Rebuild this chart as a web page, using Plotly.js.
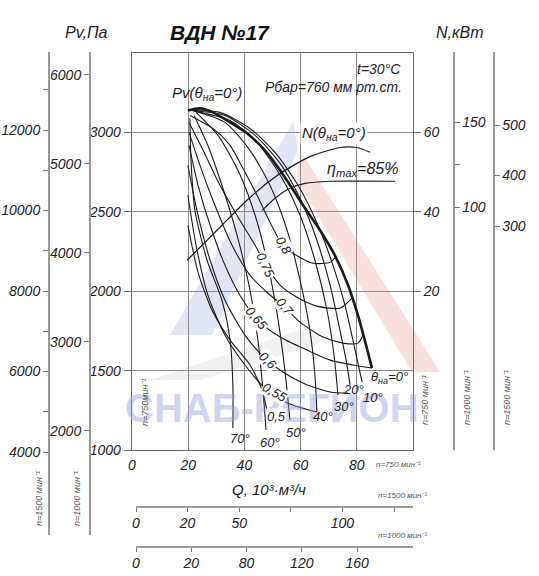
<!DOCTYPE html>
<html><head><meta charset="utf-8">
<script src="https://cdn.plot.ly/plotly-3.0.1.min.js"></script>
<style>html,body{margin:0;padding:0;background:#fff}#chart{width:539px;height:576px}</style>
</head><body><div id="chart"></div>
<script>
// ===== DATA (Q in 10^3 m3/h at n=750, Pv in Pa at n=750) =====
const Q_T0  = [19.9, 24.2, 28.8, 34.9, 40.9, 47.3, 52.7, 61.6, 66.9, 72.2, 76.9, 80.4, 83.3, 85.4];
const P_T0  = [3138, 3151, 3126, 3063, 2994, 2887, 2761, 2522, 2384, 2226, 2038, 1849, 1660, 1516];
const Q_T10 = [20.6, 31.3, 42.0, 50.9, 59.1, 66.2, 71.5, 75.8, 79.0, 81.9];
const P_T10 = [3138, 3126, 3025, 2874, 2667, 2415, 2164, 1912, 1660, 1428];
const Q_T20 = [21.4, 33.1, 43.8, 52.7, 59.8, 65.8, 70.5, 74.0, 76.2, 77.6];
const P_T20 = [3136, 3107, 2981, 2805, 2585, 2321, 2038, 1755, 1566, 1409];
const Q_T30 = [22.1, 34.9, 44.8, 53.4, 59.8, 65.1, 69.4, 71.9, 73.3];
const P_T30 = [3134, 3075, 2931, 2711, 2478, 2195, 1880, 1597, 1346];
const Q_T40 = [22.8, 33.1, 42.0, 49.1, 55.2, 59.8, 63.3, 65.1, 65.8];
const P_T40 = [3132, 3063, 2887, 2667, 2384, 2069, 1755, 1472, 1239];
const Q_T50 = [22.8, 30.6, 37.7, 43.8, 48.4, 52.0, 54.4, 56.2];
const P_T50 = [3126, 2981, 2761, 2478, 2164, 1818, 1503, 1189];
const Q_T60 = [22.1, 27.0, 32.0, 37.4, 42.0, 44.8, 46.6, 47.7];
const P_T60 = [3107, 2918, 2667, 2352, 2006, 1692, 1377, 1126];
const Q_T70 = [20.6, 21.0, 22.4, 26.7, 32.0, 34.9, 35.9, 35.9];
const P_T70 = [3088, 2824, 2509, 2195, 1943, 1692, 1409, 1138];

const Q_E80 = [20.6, 28.8, 34.9, 39.5, 44.5, 49.1, 53.7, 57.3, 64.4, 70.5, 72.6];
const P_E80 = [3107, 3025, 2918, 2773, 2604, 2434, 2289, 2239, 2176, 2182, 2220];
const Q_E75 = [20.3, 25.3, 31.3, 38.4, 43.8, 47.7, 52.7, 58.7, 65.8, 74.0, 78.3];
const P_E75 = [3063, 2887, 2667, 2447, 2289, 2163, 2038, 1962, 1906, 1893, 1956];
const Q_E70 = [20.3, 24.2, 29.5, 35.6, 42.0, 48.4, 54.4, 59.8, 68.0, 75.1, 80.4, 82.2];
const P_E70 = [3000, 2792, 2541, 2289, 2101, 1987, 1899, 1805, 1711, 1673, 1673, 1723];
const Q_E65 = [20.3, 23.5, 27.8, 33.1, 38.4, 44.8, 52.7, 62.3, 70.5, 78.6, 85.4];
const P_E65 = [2918, 2667, 2415, 2163, 1975, 1818, 1711, 1629, 1566, 1535, 1516];
const Q_E60 = [19.9, 23.1, 27.8, 33.1, 40.2, 47.3, 53.7, 61.6, 70.5, 76.9];
const P_E60 = [2792, 2509, 2195, 1943, 1723, 1579, 1491, 1415, 1365, 1358];
const Q_E55 = [19.9, 22.8, 27.0, 33.1, 40.2, 47.3, 56.2, 65.8];
const P_E55 = [2604, 2289, 1975, 1723, 1535, 1390, 1289, 1239];
const Q_E50 = [19.9, 23.5, 28.5, 34.9, 42.0, 46.3, 48.0];
const P_E50 = [2415, 2119, 1880, 1692, 1535, 1377, 1252];

const Q_ETAMAX = [46.3, 50.9, 56.2, 61.6, 70.5, 93.6];
const P_ETAMAX = [2509, 2585, 2648, 2679, 2692, 2692];

// Power N (kW, n=750) at theta=0
const Q_N0 = [19.6, 26.7, 33.8, 40.9, 50.2, 58.7, 64.4, 74.0, 80.1, 84.7];
const N_N0 = [27.8, 32.8, 37.9, 42.9, 48.4, 52.2, 54.2, 56.2, 56.2, 55.0];

// tick labels
const Q750_TICKS = [0, 20, 40, 60, 80];
const Q750_TEXT  = ['0', '20', '40', '60', '80'];
const Q1500_TICKS = [0, 25, 50, 100];
const Q1500_TEXT  = ['0', '20', '50', '100'];
const Q1500_MINOR = [75, 125];
const Q1000_TICKS = [0, 40, 80, 120, 160];
const Q1000_TEXT  = ['0', '20', '80', '120', '160'];
const PV750_TICKS = [1000, 1500, 2000, 2500, 3000];
const PV750_TEXT  = ['1000', '1500', '2000', '2500', '3000'];
const PV1000_TICKS = [2000, 3000, 4000, 5000, 6000];
const PV1000_TEXT  = ['2000', '3000', '4000', '5000', '6000'];
const PV1500_TICKS = [4000, 6000, 8000, 10000, 12000];
const PV1500_TEXT  = ['4000', '6000', '8000', '10000', '12000'];
const PV1500_MINOR = [5000, 7000, 9000, 11000, 13000];
const N750_TICKS = [20, 40, 60];
const N1000_TICKS = [100, 150];
const N1000_MINOR = [125];
const N1500_TICKS = [300, 400, 500];

const THETA_LABELS = ['0°', '10°', '20°', '30°', '40°', '50°', '60°', '70°'];
const ETA_LABELS = ['0,8', '0,75', '0,7', '0,65', '0,6', '0,55', '0,5'];

// ===== LAYOUT HELPERS =====
const W = 539, H = 576;
const fx = v => v / W;
const fy = v => 1 - v / H;
const FAM = 'Liberation Sans, Arial, sans-serif';
const INK = '#1a1a1a';

const thetaQ = [Q_T0, Q_T10, Q_T20, Q_T30, Q_T40, Q_T50, Q_T60, Q_T70];
const thetaP = [P_T0, P_T10, P_T20, P_T30, P_T40, P_T50, P_T60, P_T70];
const etaQ = [Q_E80, Q_E75, Q_E70, Q_E65, Q_E60, Q_E55, Q_E50];
const etaP = [P_E80, P_E75, P_E70, P_E65, P_E60, P_E55, P_E50];

const traces = [];
thetaQ.forEach((q, i) => traces.push({
  type: 'scatter', mode: 'lines', x: q, y: thetaP[i], xaxis: 'x', yaxis: 'y',
  name: 'θ=' + THETA_LABELS[i], showlegend: false, hoverinfo: 'skip',
  line: {color: INK, width: i === 0 ? 2.6 : 1.1, shape: 'spline', smoothing: 0.7}
}));
etaQ.forEach((q, i) => traces.push({
  type: 'scatter', mode: 'lines', x: q, y: etaP[i], xaxis: 'x', yaxis: 'y',
  name: 'η=' + ETA_LABELS[i], showlegend: false, hoverinfo: 'skip',
  line: {color: INK, width: 1.1, shape: 'spline', smoothing: 0.7}
}));
traces.push({type: 'scatter', mode: 'lines', x: Q_ETAMAX, y: P_ETAMAX, xaxis: 'x', yaxis: 'y',
  showlegend: false, hoverinfo: 'skip', line: {color: INK, width: 1.1, shape: 'spline', smoothing: 0.6}});
traces.push({type: 'scatter', mode: 'lines', x: Q_N0, y: N_N0, xaxis: 'x', yaxis: 'y2',
  showlegend: false, hoverinfo: 'skip', line: {color: INK, width: 1.2, shape: 'spline', smoothing: 0.7}});
// carriers for the extra scales
['y3', 'y4', 'y5', 'y6'].forEach(ya => traces.push({type: 'scatter', mode: 'lines', x: [], y: [], xaxis: 'x9', yaxis: ya, showlegend: false, hoverinfo: 'skip'}));
['x2', 'x3'].forEach(xa => traces.push({type: 'scatter', mode: 'lines', x: [], y: [], xaxis: xa, yaxis: 'y9', showlegend: false, hoverinfo: 'skip'}));

const tf = {family: FAM, size: 14, style: 'italic', color: '#222'};
const extraAx = {showgrid: false, zeroline: false, showline: true, linecolor: '#9a9a9a', linewidth: 1.5,
  ticks: 'outside', ticklen: 5, tickcolor: '#777', tickfont: tf, fixedrange: true, exponentformat: 'none', separatethousands: false};
const minorOf = vals => ({tickmode: 'array', tickvals: vals, ticks: 'outside', ticklen: 5, tickcolor: '#777', showgrid: false});

function ann(text, x, y, o) {
  return Object.assign({text: text, x: fx(x), y: fy(y), xref: 'paper', yref: 'paper', showarrow: false,
    xanchor: 'center', yanchor: 'middle', font: {family: FAM, size: 14, color: '#222', style: 'italic'}}, o || {});
}
const small = {family: FAM, size: 8, color: '#555', style: 'italic'};
const smallR = {family: FAM, size: 9, color: '#555', style: 'italic'};
const f = (s) => ({family: FAM, size: s, color: '#222', style: 'italic'});

const annotations = [
  // watermark first so everything else sits on top
  ann('<b>СНАБ-РЕГИОН</b>', 272, 408, {font: {family: FAM, size: 40, color: 'rgba(150,158,225,0.45)'}}),
  ann('Pv,Па', 86, 33, {font: f(16)}),
  ann('<b>ВДН №17</b>', 220, 32, {font: {family: FAM, size: 21, color: '#111', style: 'italic'}}),
  ann('N,кВт', 460, 32, {font: f(16)}),
  ann('t=30°C', 403, 69, {xanchor: 'right'}),
  ann('Рбар=760 мм рт.ст.', 404, 87, {xanchor: 'right'}),
  ann('Pv(θ<sub>на</sub>=0°)', 207, 94, {font: f(15)}),
  ann('N(θ<sub>на</sub>=0°)', 334, 134, {bgcolor: '#fff', borderpad: 1, font: f(15)}),
  ann('η<sub>max</sub>=85%', 362, 169, {font: f(16)}),
  ann('Q, 10³·м³/ч', 269, 489, {font: f(15)}),
  // theta labels
  ann('θ<sub>на</sub>=0°', 389, 377, {font: f(13)}),
  ann('10°', 373, 397, {font: f(13)}),
  ann('20°', 353, 389, {font: f(13)}),
  ann('30°', 344, 406, {font: f(13)}),
  ann('40°', 323, 416, {font: f(13)}),
  ann('50°', 296, 432, {font: f(13)}),
  ann('60°', 270, 442, {font: f(13)}),
  ann('70°', 240, 438, {font: f(13)}),
  // efficiency labels
  ann('0,8', 284, 245, {textangle: 60, bgcolor: '#fff', borderpad: 0, font: f(13)}),
  ann('0,75', 266, 265, {textangle: 65, bgcolor: '#fff', borderpad: 0, font: f(13)}),
  ann('0,7', 285, 306, {textangle: 50, bgcolor: '#fff', borderpad: 0, font: f(13)}),
  ann('0,65', 257, 318, {textangle: 50, bgcolor: '#fff', borderpad: 0, font: f(13)}),
  ann('0,6', 268, 360, {textangle: 45, bgcolor: '#fff', borderpad: 0, font: f(13)}),
  ann('0,55', 275, 392, {textangle: 30, bgcolor: '#fff', borderpad: 0, font: f(13)}),
  ann('0,5', 276, 416, {bgcolor: '#fff', borderpad: 0, font: f(13)}),
  // speed notes
  ann('n=750мин⁻¹', 145, 403, {textangle: -90, font: smallR}),
  ann('n=750 мин⁻¹', 398, 464, {font: small}),
  ann('n=1500 мин⁻¹', 402, 495, {font: small}),
  ann('n=1000 мин⁻¹', 402, 535, {font: small}),
  ann('n=750 мин⁻¹', 425, 400, {textangle: -90, font: smallR}),
  ann('n=1000 мин⁻¹', 467, 398, {textangle: -90, font: smallR}),
  ann('n=1500 мин⁻¹', 507, 398, {textangle: -90, font: smallR}),
  ann('n=1000 мин⁻¹', 77, 499, {textangle: -90, font: smallR}),
  ann('n=1500 мин⁻¹', 39, 499, {textangle: -90, font: smallR})
];

function pathFrom(pts) {
  return 'M ' + pts.map(p => fx(p[0]).toFixed(4) + ' ' + fy(p[1]).toFixed(4)).join(' L ') + ' Z';
}
const shapes = [
  {type: 'path', xref: 'paper', yref: 'paper', layer: 'below', line: {width: 0},
   fillcolor: 'rgba(140,150,220,0.25)', path: pathFrom([[293, 122], [170, 335], [212, 335], [298, 150]])},
  {type: 'path', xref: 'paper', yref: 'paper', layer: 'below', line: {width: 0},
   fillcolor: 'rgba(230,110,110,0.22)', path: pathFrom([[300, 150], [440, 372], [412, 372], [297, 180]])},
  {type: 'path', xref: 'paper', yref: 'paper', layer: 'below', line: {width: 0},
   fillcolor: 'rgba(170,170,170,0.16)', path: pathFrom([[150, 380], [300, 330], [330, 340], [200, 380]])}
];

const layout = {
  width: W, height: H, margin: {l: 0, r: 0, t: 0, b: 0}, autosize: false,
  paper_bgcolor: '#fff', plot_bgcolor: 'rgba(0,0,0,0)', showlegend: false,
  font: {family: FAM, size: 14, color: '#222'},
  xaxis: {domain: [fx(132), fx(413)], range: [0, 100], anchor: 'y', tickvals: Q750_TICKS, ticktext: Q750_TEXT,
    showgrid: true, gridcolor: '#8c8c8c', gridwidth: 1, showline: true, mirror: true, linecolor: '#6a6a6a', linewidth: 1.3,
    zeroline: false, ticks: 'outside', ticklen: 2, tickcolor: 'rgba(0,0,0,0)', tickfont: tf, fixedrange: true},
  yaxis: {domain: [fy(450), fy(53)], range: [1000, 3500], anchor: 'x', tickvals: PV750_TICKS, ticktext: PV750_TEXT,
    showgrid: true, gridcolor: '#8c8c8c', gridwidth: 1, showline: true, mirror: true, linecolor: '#6a6a6a', linewidth: 1.3,
    zeroline: false, ticks: 'outside', ticklen: 7, tickcolor: '#6a6a6a', tickfont: tf, fixedrange: true},
  yaxis2: {overlaying: 'y', side: 'right', anchor: 'x', range: [-20, 80], tickvals: N750_TICKS,
    showgrid: false, zeroline: false, showline: false, ticks: 'outside', ticklen: 7, tickcolor: '#6a6a6a', tickfont: tf, fixedrange: true},
  yaxis3: Object.assign({}, extraAx, {domain: [fy(535), fy(52)], range: [831, 6258], anchor: 'free', position: fx(89), side: 'left', tickvals: PV1000_TICKS, ticktext: PV1000_TEXT}),
  yaxis4: Object.assign({}, extraAx, {domain: [fy(535), fy(52)], range: [1938, 13938], anchor: 'free', position: fx(48), side: 'left', tickvals: PV1500_TICKS, ticktext: PV1500_TEXT, minor: minorOf(PV1500_MINOR)}),
  yaxis5: Object.assign({}, extraAx, {domain: [fy(450), fy(52)], range: [-42.9, 191.2], anchor: 'free', position: fx(453), side: 'right', tickvals: N1000_TICKS, minor: minorOf(N1000_MINOR)}),
  yaxis6: Object.assign({}, extraAx, {domain: [fy(450), fy(52)], range: [-143.5, 644.6], anchor: 'free', position: fx(493), side: 'right', tickvals: N1500_TICKS}),
  xaxis2: Object.assign({}, extraAx, {domain: [fx(136), fx(413)], range: [0, 134.2], anchor: 'free', position: fy(506), side: 'bottom', tickvals: Q1500_TICKS, ticktext: Q1500_TEXT, ticklen: 4, minor: Object.assign(minorOf(Q1500_MINOR), {ticklen: 4})}),
  xaxis3: Object.assign({}, extraAx, {domain: [fx(136), fx(413)], range: [0, 200.5], anchor: 'free', position: fy(546), side: 'bottom', tickvals: Q1000_TICKS, ticktext: Q1000_TEXT, ticklen: 4}),
  xaxis9: {visible: false, anchor: 'y3', range: [0, 1], domain: [0, 1], fixedrange: true},
  yaxis9: {visible: false, anchor: 'x2', range: [0, 1], domain: [0, 0.01], fixedrange: true},
  annotations: annotations,
  shapes: shapes
};

Plotly.newPlot('chart', traces, layout, {staticPlot: true, displayModeBar: false});
</script>
</body></html>
